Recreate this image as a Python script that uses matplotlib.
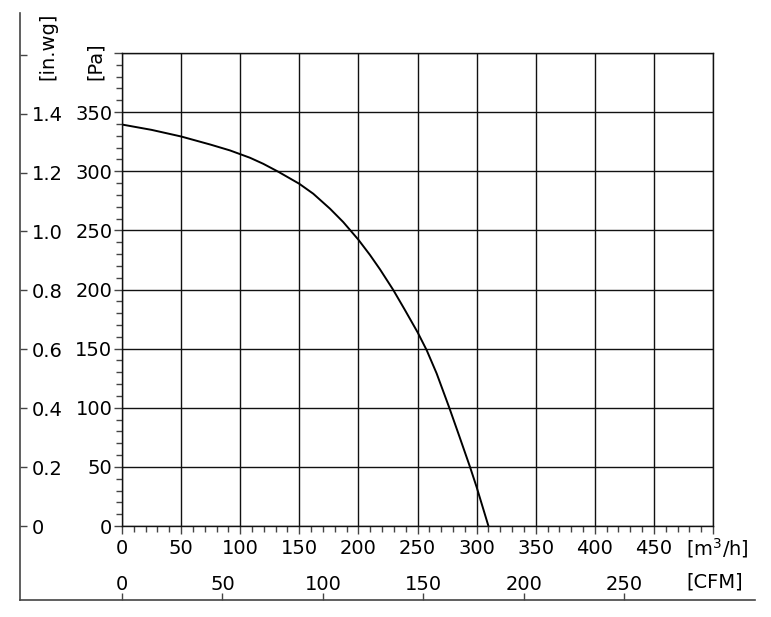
import numpy as np
import matplotlib
matplotlib.use("Agg")
from matplotlib import pyplot as plt

# curva do ventilador
vazao = [0, 25, 50, 75, 91.4, 108.3, 119.5, 132.2, 150, 161.8, 176, 187.2, 200,
         209.8, 218.3, 229.5, 239.4, 250.2, 257.8, 266.2, 276.9, 285, 294.4, 300,
         305, 310]                                                   # m3/h
pressao = [339.5, 335, 329.4, 322.5, 317.6, 311.4, 306.3, 299.6, 289.4, 281, 268.3,
           257, 242.1, 229.2, 217.0, 199.6, 182.6, 163.6, 148.6, 129, 100, 77, 50,
           33, 16.5, 0]                                              # Pa

x_ticks = list(range(0, 501, 50))
x_labels = [str(v) for v in x_ticks[:-1]] + [""]
y_ticks = list(range(0, 401, 50))
y_labels = [str(v) for v in y_ticks[:-1]] + [""]
inwg_ticks = [0, 0.2, 0.4, 0.6, 0.8, 1.0, 1.2, 1.4, 1.6]
inwg_labels = ["0", "0.2", "0.4", "0.6", "0.8", "1.0", "1.2", "1.4", ""]
cfm_ticks = [0, 50, 100, 150, 200, 250]

PA_POR_INWG = 249.09
M3H_POR_CFM = 1.699

W, H = 771, 617
fs = 14
plt.rcParams['font.family'] = ['DejaVu Sans']

fig = plt.figure(figsize=(W / 100, H / 100), dpi=100)

# eixo principal (px da figura)
x0, x1, y0, y1 = 122, 713, 526, 53
ax = fig.add_axes([x0 / W, 1 - y0 / H, (x1 - x0) / W, (y0 - y1) / H])
ax.plot(vazao, pressao, color="black", lw=1.4)
ax.set_xlim(0, 500)
ax.set_ylim(0, 400)
ax.set_xticks(x_ticks)
ax.set_xticklabels(x_labels)
ax.set_yticks(y_ticks)
ax.set_yticklabels(y_labels)
ax.set_xticks(np.arange(0, 501, 10), minor=True)
ax.set_yticks(np.arange(0, 401, 10), minor=True)
ax.grid(True, which="major", color="#111111", lw=1.0)
ax.tick_params(which="major", direction="out", length=5.5, width=1, color="#444444",
               labelsize=fs)
ax.tick_params(which="minor", direction="out", length=4, width=1, color="#444444")
ax.tick_params(axis="y", pad=1.5)
ax.tick_params(axis="x", pad=4)
for s in ax.spines.values():
    s.set_color("#111111")
    s.set_linewidth(1.0)

px_pa = (y0 - y1) / 400.0
px_m3 = (x1 - x0) / 500.0

# eixo in.wg a esquerda
ex, et, eb = 20, 13, 600
pa_bot = -(eb - y0) / px_pa
pa_top = 400 + (y1 - et) / px_pa
ax_in = fig.add_axes([ex / W, 1 - eb / H, 1e-4, (eb - et) / H])
ax_in.set_ylim(pa_bot / PA_POR_INWG, pa_top / PA_POR_INWG)
ax_in.set_yticks(inwg_ticks)
ax_in.set_yticklabels(inwg_labels)
ax_in.set_xticks([])
ax_in.patch.set_visible(False)
for k in ["top", "right", "bottom"]:
    ax_in.spines[k].set_visible(False)
ax_in.spines["left"].set_color("#444444")
ax_in.spines["left"].set_linewidth(1.2)
ax_in.tick_params(axis="y", direction="in", length=5, width=1, color="#444444",
                  left=True, right=False, labelleft=False, labelright=True,
                  labelsize=fs, pad=8.5)

# eixo CFM embaixo
cl, cr = 20, 755
m3_left = -(x0 - cl) / px_m3
m3_right = 500 + (cr - x1) / px_m3
ax_cfm = fig.add_axes([cl / W, 1 - eb / H, (cr - cl) / W, 1e-4])
ax_cfm.set_xlim(m3_left / M3H_POR_CFM, m3_right / M3H_POR_CFM)
ax_cfm.set_xticks(cfm_ticks)
ax_cfm.set_yticks([])
ax_cfm.patch.set_visible(False)
for k in ["top", "right", "left"]:
    ax_cfm.spines[k].set_visible(False)
ax_cfm.spines["bottom"].set_color("#444444")
ax_cfm.spines["bottom"].set_linewidth(1.2)
ax_cfm.tick_params(axis="x", direction="in", length=5, width=1, color="#444444",
                   bottom=True, top=False, labelbottom=False, labeltop=True,
                   labelsize=fs, pad=4)

# rotulos de unidade
fig.text(47.5 / W, 1 - 80 / H, "[in.wg]", rotation=90, ha="center", va="bottom",
         fontsize=fs)
fig.text(95 / W, 1 - 80 / H, "[Pa]", rotation=90, ha="center", va="bottom",
         fontsize=fs)
fig.text(686 / W, 1 - 548 / H, r"[m$^3$/h]", ha="left", va="center", fontsize=fs)
fig.text(686 / W, 1 - 582 / H, "[CFM]", ha="left", va="center", fontsize=fs)

fig.savefig("out.png", dpi=100)
